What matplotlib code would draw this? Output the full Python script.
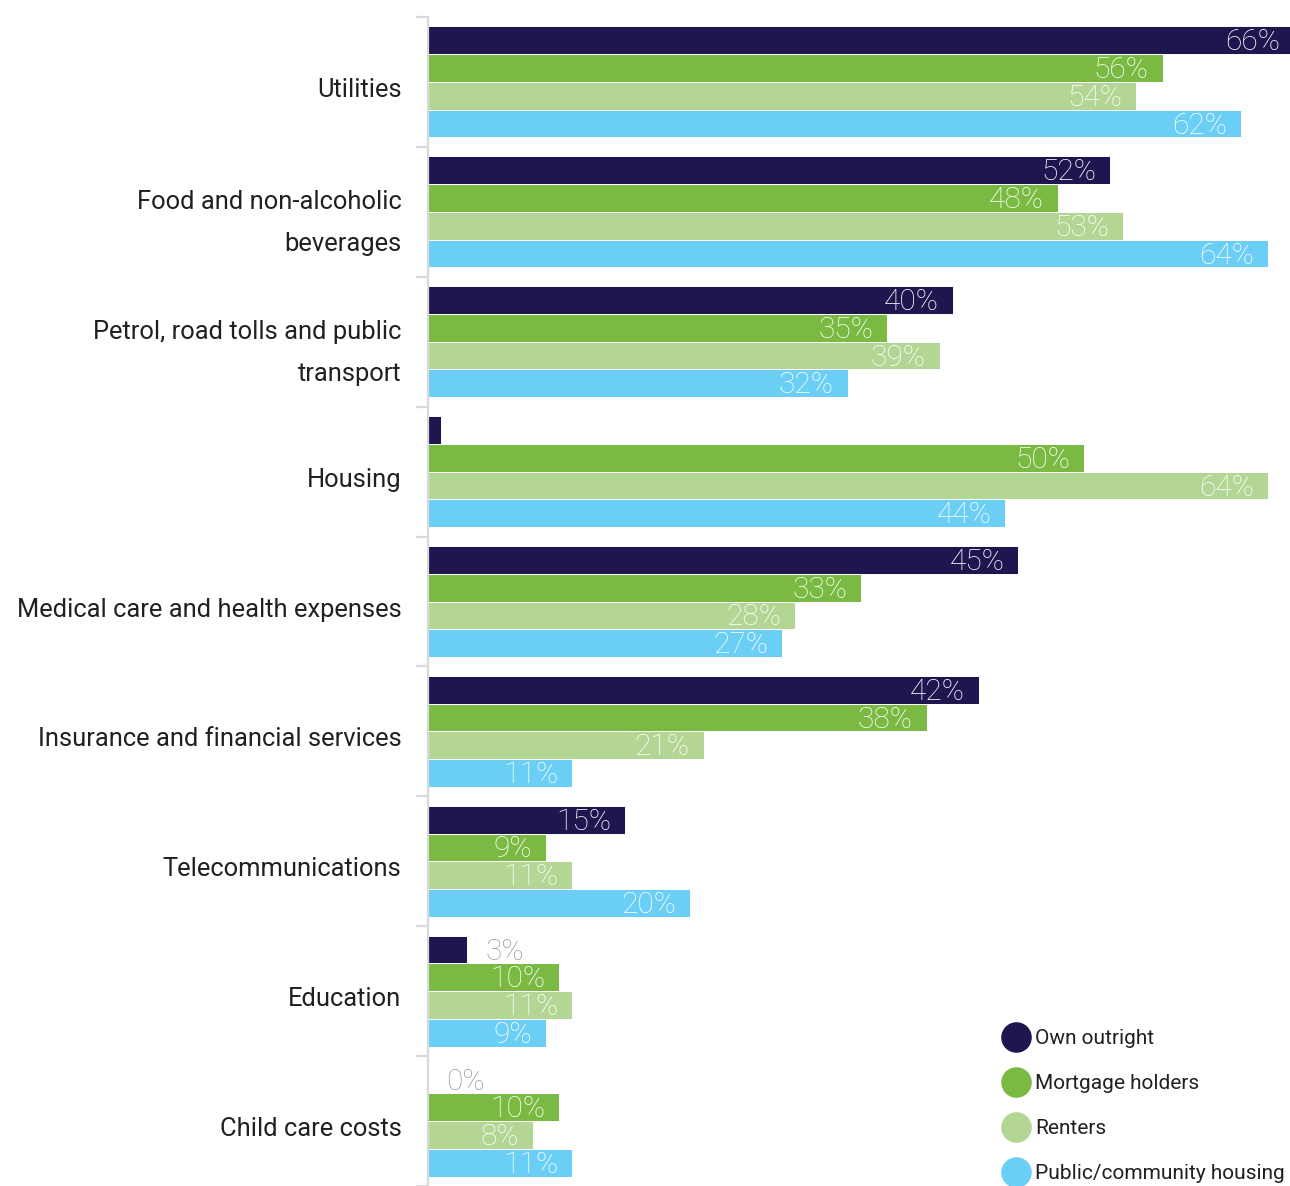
import matplotlib.pyplot as plt
from matplotlib.lines import Line2D
import matplotlib.transforms as mtransforms
import numpy as np

plt.rcParams['font.family'] = 'Roboto'

categories = [
    'Utilities',
    'Food and non-alcoholic\nbeverages',
    'Petrol, road tolls and public\ntransport',
    'Housing',
    'Medical care and health expenses',
    'Insurance and financial services',
    'Telecommunications',
    'Education',
    'Child care costs',
]
series = ['Own outright', 'Mortgage holders', 'Renters', 'Public/community housing']
own_outright = [66, 52, 40, 1, 45, 42, 15, 3, 0]
mortgage = [56, 48, 35, 50, 33, 38, 9, 10, 10]
renters = [54, 53, 39, 64, 28, 21, 11, 11, 8]
public_housing = [62, 64, 32, 44, 27, 11, 20, 9, 11]
colors = ['#1f1650', '#7aba43', '#b3d694', '#6bcff5']
# housing / own outright has no printed value
hidden = [(3, 0)]

values = [own_outright, mortgage, renters, public_housing]

W, H = 1290, 1186
fig = plt.figure(figsize=(W / 100, H / 100), dpi=100)
ax = fig.add_axes([428 / W, 0, 1 - 428 / W, (H - 17) / H])

y = np.arange(len(categories))
bh = 0.2135
for k, (vals, c) in enumerate(zip(values, colors)):
    pos = y + (k - 1.5) * bh
    ax.barh(pos, vals, height=bh, color=c, edgecolor='white', linewidth=0.7)
    for i, v in enumerate(vals):
        if (i, k) in hidden:
            continue
        if v < 5:
            ax.annotate(f'{v}%', (v, pos[i]), xytext=(13, -1.5), textcoords='offset points',
                        ha='left', va='center', color='#9c9c9c', fontsize=21.5,
                        fontweight='light', annotation_clip=False)
        else:
            ax.annotate(f'{v}%', (v, pos[i]), xytext=(-10, -1.5), textcoords='offset points',
                        ha='right', va='center', color='white', fontsize=21.5,
                        fontweight='light', annotation_clip=False)

ax.set_xlim(0, 65.7)
ax.set_ylim(len(categories) - 0.5, -0.5)
ax.set_xticks([])
for s in ['top', 'right', 'bottom']:
    ax.spines[s].set_visible(False)
ax.spines['left'].set_color('#d9d9d9')
ax.spines['left'].set_linewidth(1.6)

ax.set_yticks(y)
ax.set_yticklabels(categories, fontsize=18.4, color='#231f20', linespacing=1.95)
ax.set_yticks(np.arange(len(categories) + 1) - 0.5, minor=True)
ax.tick_params(axis='y', which='major', length=0, pad=19)
ax.tick_params(axis='y', which='minor', length=9, width=1.6, color='#d9d9d9')
# nudge single-line category names a little lower
shift = mtransforms.ScaledTranslation(0, -4 / 72, fig.dpi_scale_trans)
for lbl in ax.get_yticklabels():
    if '\n' not in lbl.get_text():
        lbl.set_transform(lbl.get_transform() + shift)

handles = [Line2D([], [], marker='o', ls='', ms=21, color=c) for c in colors]
leg = fig.legend(handles, series, loc='upper left', bbox_to_anchor=(1006 / W, 1 - 1029 / H),
                 frameon=False, fontsize=15, handlelength=1.0, handletextpad=0.4,
                 labelspacing=1.25, borderpad=0, borderaxespad=0)
for t in leg.get_texts():
    t.set_color('#231f20')

fig.savefig('out.png', dpi=100)
